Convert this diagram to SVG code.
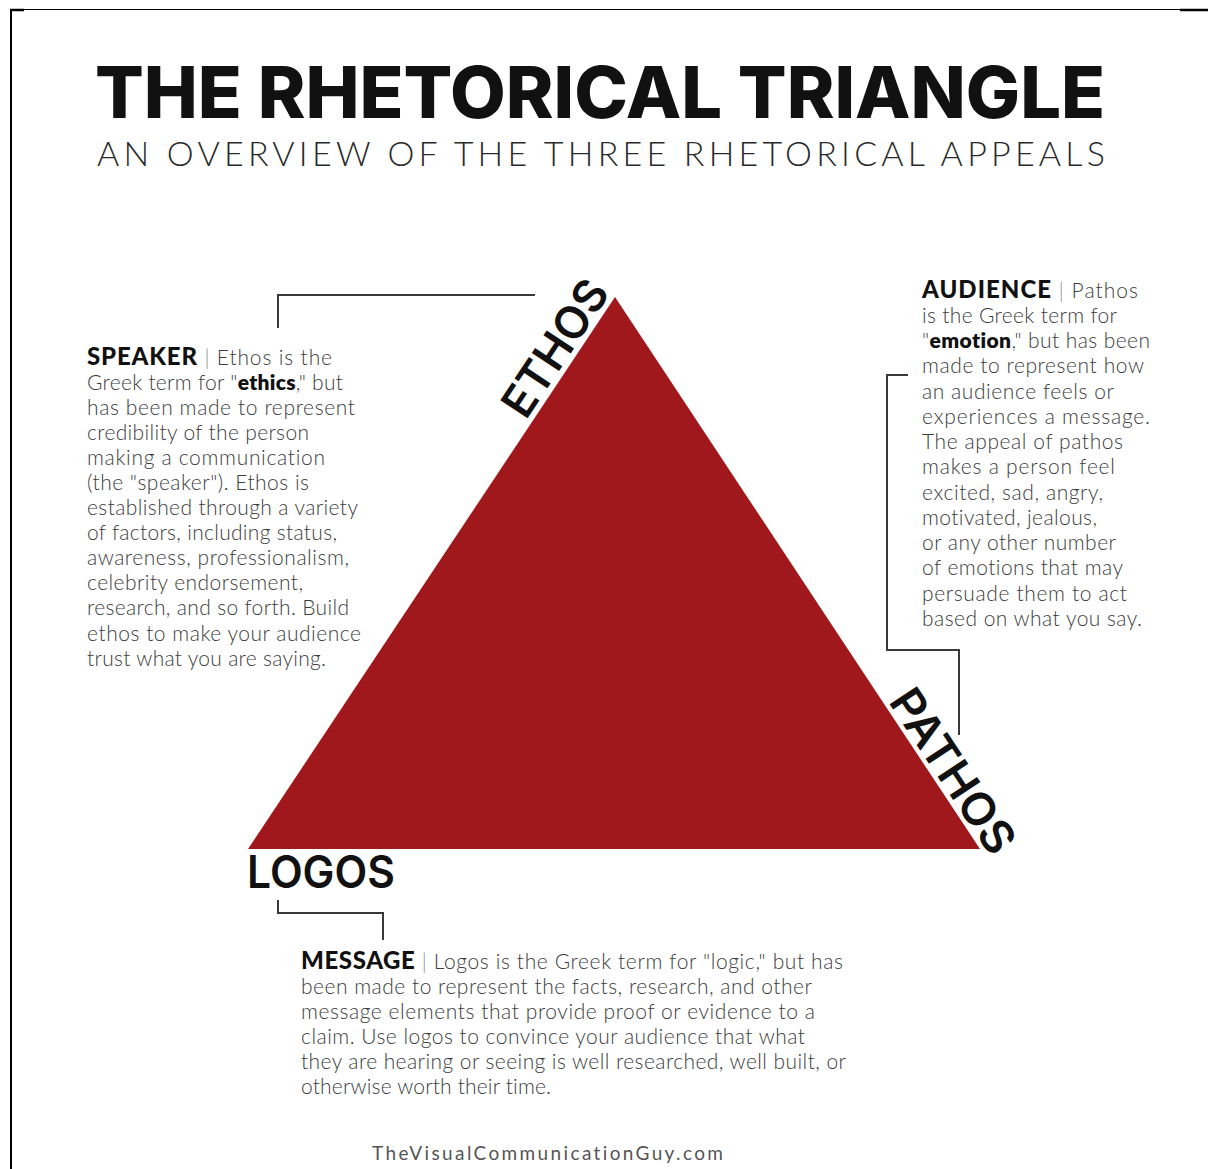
<svg xmlns="http://www.w3.org/2000/svg" width="1208" height="1169" viewBox="0 0 1208 1169">
  <style>
    text { font-variant-ligatures: none; }
    .title { font-family: "Inter", "Liberation Sans", sans-serif; font-weight: 800; fill: #111; }
    .subtitle { font-family: "Lato", "Liberation Sans", sans-serif; font-weight: 300; fill: #2a2a2a; }
    .body { font-family: "Lato", "Liberation Sans", sans-serif; font-weight: 300; font-size: 21px; fill: #3d3d3d; }
    .head { font-family: "Lato", "Liberation Sans", sans-serif; font-weight: 900; font-size: 24px; fill: #111; }
    .em { font-weight: 800; fill: #111; }
    .pipe { fill: #8a8a8a; font-weight: 300; }
    .vertex { font-family: "Inter", "Liberation Sans", sans-serif; font-weight: 600; font-size: 45px; fill: #111; }
    .footer { font-family: "Lato", "Liberation Sans", sans-serif; font-weight: 400; font-size: 19px; fill: #555; }
    .conn { fill: none; stroke: #3a3a3a; stroke-width: 2; }
  </style>

  <!-- page frame -->
  <rect x="0" y="0" width="1208" height="1169" fill="#fff"/>
  <g id="frame" stroke="#000" fill="none">
    <line x1="10" y1="9.5" x2="1180" y2="9.5" stroke-width="1.2"/>
    <line x1="1180" y1="10" x2="1208" y2="10" stroke-width="2.5"/>
    <line x1="10" y1="10" x2="24" y2="10" stroke-width="2.5"/>
    <line x1="11" y1="9" x2="11" y2="1169" stroke-width="2"/>
  </g>

  <!-- heading -->
  <g id="heading">
    <text class="title" x="95" y="118" font-size="72" textLength="1010" lengthAdjust="spacingAndGlyphs">THE RHETORICAL TRIANGLE</text>
    <text class="subtitle" x="97" y="166" font-size="34" textLength="1008" lengthAdjust="spacing">AN OVERVIEW OF THE THREE RHETORICAL APPEALS</text>
  </g>

  <!-- triangle -->
  <g id="triangle">
    <polygon points="615,297 248,849 980,849" fill="#a0181c"/>
  </g>

  <!-- vertex labels -->
  <g id="ethos-label">
    <text class="vertex" transform="translate(555,348) rotate(-56.4)" x="0" y="16" text-anchor="middle" textLength="154" lengthAdjust="spacingAndGlyphs">ETHOS</text>
  </g>
  <g id="pathos-label">
    <text class="vertex" transform="translate(953,771) rotate(56.4)" x="0" y="16" text-anchor="middle" textLength="188" lengthAdjust="spacingAndGlyphs">PATHOS</text>
  </g>
  <g id="logos-label">
    <text class="vertex" x="247" y="888" textLength="148" lengthAdjust="spacingAndGlyphs">LOGOS</text>
  </g>

  <!-- connectors -->
  <g id="connectors">
    <polyline class="conn" points="278,328 278,295 535,295"/>
    <polyline class="conn" points="908,375 887,375 887,650 959,650 959,735"/>
    <polyline class="conn" points="278,900 278,913 383,913 383,940"/>
  </g>

  <!-- speaker note -->
  <g id="speaker">
    <text class="body" x="87" y="365" textLength="245" lengthAdjust="spacing"><tspan class="head">SPEAKER</tspan><tspan class="pipe"> | </tspan>Ethos is the</text>
    <text class="body" x="87" y="390" textLength="256" lengthAdjust="spacing">Greek term for "<tspan class="em">ethics</tspan>," but</text>
    <text class="body" x="87" y="415" textLength="268" lengthAdjust="spacing">has been made to represent</text>
    <text class="body" x="87" y="440" textLength="222" lengthAdjust="spacing">credibility of the person</text>
    <text class="body" x="87" y="465" textLength="238" lengthAdjust="spacing">making a communication</text>
    <text class="body" x="87" y="490" textLength="222" lengthAdjust="spacing">(the  "speaker"). Ethos is</text>
    <text class="body" x="87" y="515" textLength="271" lengthAdjust="spacing">established through a variety</text>
    <text class="body" x="87" y="540" textLength="250" lengthAdjust="spacing">of factors, including status,</text>
    <text class="body" x="87" y="565" textLength="262" lengthAdjust="spacing">awareness, professionalism,</text>
    <text class="body" x="87" y="590" textLength="216" lengthAdjust="spacing">celebrity endorsement,</text>
    <text class="body" x="87" y="615" textLength="262" lengthAdjust="spacing">research, and so forth. Build</text>
    <text class="body" x="87" y="641" textLength="274" lengthAdjust="spacing">ethos to make your audience</text>
    <text class="body" x="87" y="666" textLength="239" lengthAdjust="spacing">trust what you are saying.</text>
  </g>

  <!-- audience note -->
  <g id="audience">
    <text class="body" x="922" y="298" textLength="216" lengthAdjust="spacing"><tspan class="head">AUDIENCE</tspan><tspan class="pipe"> | </tspan>Pathos</text>
    <text class="body" x="922" y="323" textLength="195" lengthAdjust="spacing">is the Greek term for</text>
    <text class="body" x="922" y="348" textLength="228" lengthAdjust="spacing">"<tspan class="em">emotion</tspan>," but has been</text>
    <text class="body" x="922" y="373" textLength="222" lengthAdjust="spacing">made to represent how</text>
    <text class="body" x="922" y="399" textLength="192" lengthAdjust="spacing">an audience feels or</text>
    <text class="body" x="922" y="424" textLength="228" lengthAdjust="spacing">experiences a message.</text>
    <text class="body" x="922" y="449" textLength="201" lengthAdjust="spacing">The appeal of pathos</text>
    <text class="body" x="922" y="474" textLength="193" lengthAdjust="spacing">makes a person feel</text>
    <text class="body" x="922" y="500" textLength="181" lengthAdjust="spacing">excited, sad, angry,</text>
    <text class="body" x="922" y="525" textLength="175" lengthAdjust="spacing">motivated, jealous,</text>
    <text class="body" x="922" y="550" textLength="194" lengthAdjust="spacing">or any other number</text>
    <text class="body" x="922" y="575" textLength="201" lengthAdjust="spacing">of emotions that may</text>
    <text class="body" x="922" y="601" textLength="205" lengthAdjust="spacing">persuade them to act</text>
    <text class="body" x="922" y="626" textLength="220" lengthAdjust="spacing">based on what you say.</text>
  </g>

  <!-- message note -->
  <g id="message">
    <text class="body" x="301" y="969" textLength="542" lengthAdjust="spacing"><tspan class="head">MESSAGE</tspan><tspan class="pipe"> | </tspan>Logos is the Greek term for "logic," but has</text>
    <text class="body" x="301" y="994" textLength="511" lengthAdjust="spacing">been made to represent the facts, research, and other</text>
    <text class="body" x="301" y="1019" textLength="514" lengthAdjust="spacing">message elements that provide proof or evidence to a</text>
    <text class="body" x="301" y="1044" textLength="504" lengthAdjust="spacing">claim. Use logos to convince your audience that what</text>
    <text class="body" x="301" y="1069" textLength="545" lengthAdjust="spacing">they are hearing or seeing is well researched, well built, or</text>
    <text class="body" x="301" y="1094" textLength="250" lengthAdjust="spacing">otherwise worth their time.</text>
  </g>

  <!-- footer -->
  <g id="footer">
    <text class="footer" x="372" y="1160" textLength="351" lengthAdjust="spacing">TheVisualCommunicationGuy.com</text>
  </g>
</svg>
